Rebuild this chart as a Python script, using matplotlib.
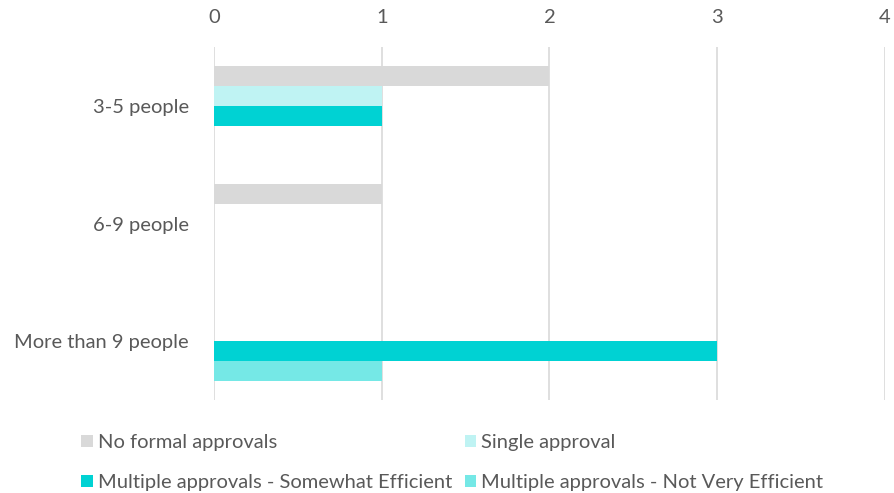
import matplotlib
matplotlib.use("Agg")
import matplotlib.pyplot as plt
import numpy as np
from matplotlib.patches import Patch

categories = ["3-5 people", "6-9 people", "More than 9 people"]
series_names = [
    "No formal approvals",
    "Single approval",
    "Multiple approvals - Somewhat Efficient",
    "Multiple approvals - Not Very Efficient",
]
no_formal = [2, 1, 0]
single = [1, 0, 0]
multi_somewhat = [1, 0, 3]
multi_not_very = [0, 0, 1]
x_ticks = [0, 1, 2, 3, 4]

colors = ["#D9D9D9", "#BFF3F3", "#00D2D3", "#75E8E6"]
series = [no_formal, single, multi_somewhat, multi_not_very]

plt.rcParams["font.family"] = ["Lato", "DejaVu Sans"]
text_color = "#595959"
fs = 14.5

fig = plt.figure(figsize=(8.95, 4.93), dpi=100)
ax = fig.add_axes([0.2391, 0.1886, 0.7497, 0.7161])

h = 0.169
y = np.arange(len(categories))
for i, (vals, c) in enumerate(zip(series, colors)):
    ax.barh(y + (i - 1.5) * h, vals, height=h, color=c, linewidth=0, zorder=3)

ax.set_ylim(2.5, -0.5)
ax.set_xlim(0, 4)
ax.set_xticks(x_ticks)
ax.xaxis.tick_top()
ax.tick_params(axis="x", length=0, pad=15, labelsize=fs, labelcolor=text_color)
ax.tick_params(axis="y", length=0, pad=18, labelsize=fs, labelcolor=text_color)
ax.set_yticks(y)
ax.set_yticklabels(categories)
ax.grid(axis="x", color="#D9D9D9", linewidth=1.2, zorder=0)
for s in ax.spines.values():
    s.set_visible(False)

handles = [Patch(facecolor=c, edgecolor="none") for c in colors]
order = [0, 2, 1, 3]
fig.legend([handles[k] for k in order], [series_names[k] for k in order],
           ncol=2, loc="lower left", bbox_to_anchor=(0.082, -0.012),
           frameon=False, fontsize=fs, labelcolor=text_color,
           handlelength=0.55, handleheight=0.55, handletextpad=0.25,
           columnspacing=0.65, labelspacing=1.15, borderaxespad=0)

fig.savefig("out.png", dpi=100, facecolor="white")
